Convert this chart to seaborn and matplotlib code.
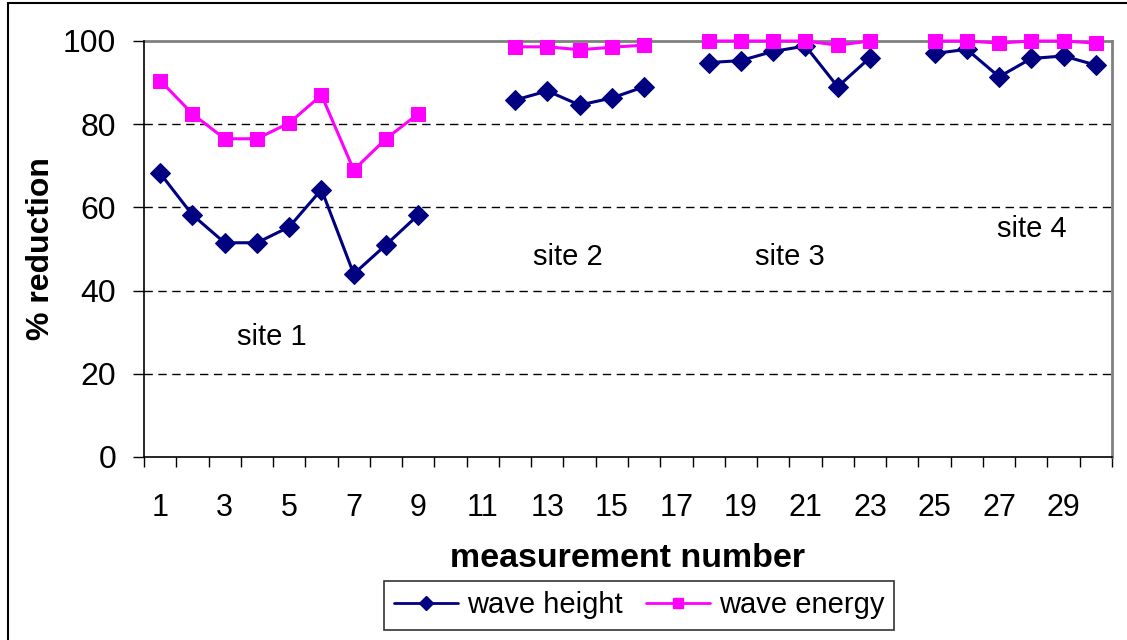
import numpy as np
import pandas as pd
import seaborn as sns
import matplotlib.pyplot as plt
from matplotlib.lines import Line2D
from matplotlib.patches import Rectangle

# ---- data ----
measurement = list(range(1, 31))
site = [1]*9 + [0, 0] + [2]*5 + [0] + [3]*6 + [0] + [4]*6
nan = np.nan
wave_height = [68.2, 58.2, 51.5, 51.5, 55.3, 64.3, 44.0, 51.0, 58.2,
               nan, nan,
               85.8, 88.0, 84.6, 86.3, 89.0,
               nan,
               94.8, 95.3, 97.5, 98.8, 89.0, 96.0,
               nan,
               97.0, 98.0, 91.4, 95.8, 96.4, 94.2]
wave_energy = [90.5, 82.5, 76.5, 76.5, 80.3, 87.0, 69.0, 76.5, 82.5,
               nan, nan,
               98.6, 98.6, 97.9, 98.5, 99.0,
               nan,
               100.0, 100.0, 100.0, 100.0, 99.0, 100.0,
               nan,
               100.0, 100.0, 99.5, 100.0, 100.0, 99.5]
series_names = ["wave height", "wave energy"]
site_labels = ["site 1", "site 2", "site 3", "site 4"]
site_label_pos = [(4.47, 28.8), (13.64, 48.0), (20.52, 48.0), (28.0, 54.8)]
y_ticks = [0, 20, 40, 60, 80, 100]
x_labels = list(range(1, 30, 2))

df = pd.DataFrame({
    "measurement": measurement * 2,
    "site": site * 2,
    "value": wave_height + wave_energy,
    "series": [series_names[0]] * 30 + [series_names[1]] * 30,
})
df = df[df["site"] > 0].dropna()

colors = {"wave height": "#000080", "wave energy": "#FF00FF"}
markers = {"wave height": "D", "wave energy": "s"}
msizes = {"wave height": 10, "wave energy": 9.8}

sns.set_theme(style="white")
plt.rcParams["font.family"] = ["Liberation Sans", "DejaVu Sans"]
for k in ["text.color", "axes.labelcolor", "xtick.color", "ytick.color"]:
    plt.rcParams[k] = "black"

fig = plt.figure(figsize=(11.27, 6.4), dpi=100)
ax = fig.add_axes([144/1127, (640-457)/640, 968/1127, (457-41)/640])

for name in series_names:
    sub = df[df["series"] == name]
    sns.lineplot(data=sub, x="measurement", y="value", units="site",
                 estimator=None, color=colors[name], marker=markers[name],
                 markersize=msizes[name], markeredgecolor=colors[name],
                 linewidth=2.2, ax=ax, legend=False, zorder=3, clip_on=False)

ax.set_xlim(0.5, 30.5)
ax.set_ylim(0, 100)

for v in y_ticks[1:-1]:
    ax.axhline(v, color="black", linestyle=(0, (6, 4)), linewidth=1, zorder=1)

ax.set_yticks(y_ticks)
ax.set_yticklabels([str(v) for v in y_ticks], fontsize=23)
ax.tick_params(axis="y", direction="out", length=8, width=1, color="black",
               left=True, pad=12)

ax.set_xticks(np.arange(0.5, 31, 1))
ax.set_xticklabels([])
ax.set_xticks(x_labels, minor=True)
ax.set_xticklabels([str(v) for v in x_labels], minor=True, fontsize=22)
ax.tick_params(axis="x", which="major", direction="out", length=7, width=1,
               color="black", bottom=True)
ax.tick_params(axis="x", which="minor", length=0, pad=26)

for s in ["top", "right"]:
    ax.spines[s].set_color("#808080")
    ax.spines[s].set_linewidth(2)
    ax.spines[s].set_zorder(2)
for s in ["left", "bottom"]:
    ax.spines[s].set_color("black")
    ax.spines[s].set_linewidth(1.2)

ax.set_xlabel("measurement number", fontsize=24.5, fontweight="bold", labelpad=14)
ax.set_ylabel("% reduction", fontsize=23, fontweight="bold", labelpad=5)

for lab, (x, y) in zip(site_labels, site_label_pos):
    ax.text(x, y, lab, fontsize=21, ha="center", va="center")

handles = [Line2D([], [], color=colors[n], marker=markers[n], markersize=msizes[n] * 0.7,
                  linewidth=2) for n in series_names]
leg = fig.legend(handles, series_names, loc="center", bbox_to_anchor=(0.567, 0.054),
                 ncol=2, fontsize=21, frameon=True, fancybox=False,
                 edgecolor="black", handlelength=2.2, handletextpad=0.3,
                 columnspacing=0.8, borderpad=0.35)
leg.get_frame().set_linewidth(1.2)

fig.patches.append(Rectangle((8/1127, -0.1), 1.2, (637/640) + 0.1,
                             transform=fig.transFigure, fill=False,
                             edgecolor="black", linewidth=1.5))

fig.savefig("out.png", dpi=100)
